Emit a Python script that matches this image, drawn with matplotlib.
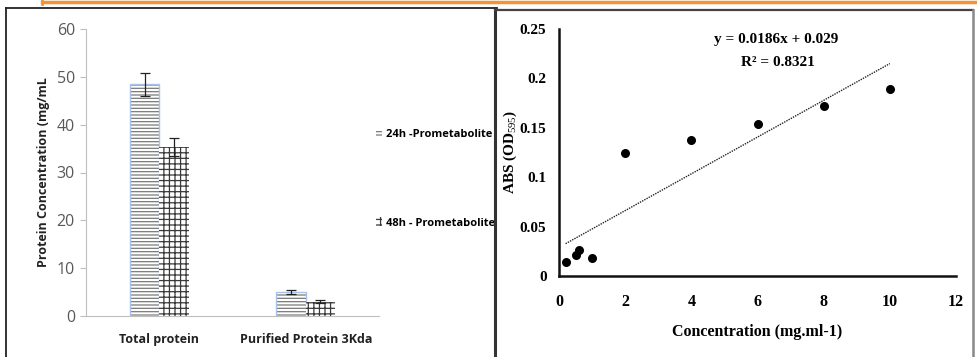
import matplotlib.pyplot as plt
from matplotlib.lines import Line2D

# left chart: protein concentration
categories = ["Total protein", "Purified Protein 3Kda"]
series_names = ["24h -Prometabolite", "48h - Prometabolite"]
conc_24h = [48.4, 5.0]
err_24h = [2.4, 0.5]
conc_48h = [35.3, 3.0]
err_48h = [1.9, 0.3]
left_yticks = [0, 10, 20, 30, 40, 50, 60]

# right chart: standard curve
std_conc = [0.2, 0.5, 0.6, 1, 2, 4, 6, 8, 10]
std_abs = [0.014, 0.021, 0.026, 0.018, 0.125, 0.138, 0.154, 0.172, 0.189]
fit_slope = 0.0186
fit_intercept = 0.029
fit_r2 = 0.8321
right_xticks = [0, 2, 4, 6, 8, 10, 12]
right_yticks = [0, 0.05, 0.1, 0.15, 0.2, 0.25]
right_yticklabels = ["0", "0.05", "0.1", "0.15", "0.2", "0.25"]

W, H = 977, 357
plt.rcParams['mathtext.fontset'] = 'custom'
plt.rcParams['mathtext.rm'] = 'Liberation Serif'
plt.rcParams['mathtext.bf'] = 'Liberation Serif:bold'
plt.rcParams['hatch.linewidth'] = 0.9

SANS = 'Open Sans'
SERIF = 'Liberation Serif'

fig = plt.figure(figsize=(W / 100, H / 100), dpi=100)


def fx(px):
    return px / W


def fy(py):
    return 1 - py / H


# frame lines of the composite picture
fig.add_artist(Line2D([fx(42), fx(977)], [fy(2), fy(2)], color='#f39237', lw=2.5))
fig.add_artist(Line2D([fx(42), fx(42)], [fy(0), fy(4)], color='#f39237', lw=2))
fig.add_artist(Line2D([fx(6), fx(497)], [fy(8), fy(8)], color='#222222', lw=1.3))
fig.add_artist(Line2D([fx(6), fx(6)], [fy(8), fy(357)], color='#222222', lw=1.3))
fig.add_artist(Line2D([fx(495), fx(495)], [fy(8), fy(357)], color='#333333', lw=2.2))
fig.add_artist(Line2D([fx(495), fx(973)], [fy(9.5), fy(9.5)], color='#444444', lw=1.6))
fig.add_artist(Line2D([fx(973), fx(973)], [fy(9.5), fy(357)], color='#888888', lw=1.8))

# ---- left: bar chart ----
ax1 = fig.add_axes([fx(86), fy(316), fx(379) - fx(86), fy(29) - fy(316)])
xs = list(range(len(categories)))
bw = 0.2
b1 = ax1.bar([x - bw / 2 for x in xs], conc_24h, width=bw, color='white',
             edgecolor='#7a7a7a', linewidth=0, hatch='-----', label=series_names[0])
ax1.bar([x - bw / 2 for x in xs], conc_24h, width=bw, fill=False,
        edgecolor='#a9c2ea', linewidth=1.0)
b2 = ax1.bar([x + bw / 2 for x in xs], conc_48h, width=bw, color='white',
             edgecolor='#3a3a3a', linewidth=0, hatch='+++', label=series_names[1])
ax1.errorbar([x - bw / 2 for x in xs], conc_24h, yerr=err_24h, fmt='none',
             ecolor='#222222', elinewidth=0.9, capsize=3.5, capthick=0.9)
ax1.errorbar([x + bw / 2 for x in xs], conc_48h, yerr=err_48h, fmt='none',
             ecolor='#222222', elinewidth=0.9, capsize=3.5, capthick=0.9)
ax1.set_xlim(-0.5, 1.5)
ax1.set_ylim(0, 60)
ax1.set_yticks(left_yticks)
ax1.set_xticks(xs)
ax1.set_xticklabels(categories, fontfamily=SANS, fontweight='bold', fontsize=9,
                    color='#222222')
ax1.tick_params(axis='x', length=0, pad=12)
ax1.tick_params(axis='y', length=4, color='#bfbfbf', labelcolor='#595959',
                labelsize=11.5, pad=4)
for lab in ax1.get_yticklabels():
    lab.set_fontfamily(SANS)
for s in ['top', 'right']:
    ax1.spines[s].set_visible(False)
for s in ['left', 'bottom']:
    ax1.spines[s].set_color('#bfbfbf')
ax1.set_ylabel('Protein Concentration (mg/mL', fontfamily=SANS, fontweight='bold',
               fontsize=9, color='#222222', labelpad=5)
ax1.legend(handles=[b1, b2], loc='upper left', bbox_to_anchor=(fx(370), fy(123)),
           bbox_transform=fig.transFigure, frameon=False, borderpad=0,
           handlelength=0.6, handleheight=0.8, handletextpad=0.3, labelspacing=7.0,
           prop={'family': SANS, 'weight': 'bold', 'size': 8})

# ---- right: standard curve ----
ax2 = fig.add_axes([fx(559), fy(276), fx(956) - fx(559), fy(29) - fy(276)])
ax2.scatter(std_conc, std_abs, s=30, color='black', zorder=3)
fit_x = [min(std_conc), max(std_conc)]
fit_y = [fit_slope * x + fit_intercept for x in fit_x]
ax2.plot(fit_x, fit_y, color='#222222', lw=1.0, linestyle=(0, (1, 0.8)))
ax2.set_xlim(0, 12)
ax2.set_ylim(0, 0.25)
ax2.set_xticks(right_xticks)
ax2.set_yticks(right_yticks)
ax2.set_yticklabels(right_yticklabels)
ax2.tick_params(length=0, labelsize=11.5)
ax2.tick_params(axis='x', pad=13)
ax2.tick_params(axis='y', labelsize=11, pad=9)
for lab in ax2.get_xticklabels() + ax2.get_yticklabels():
    lab.set_fontfamily(SERIF)
    lab.set_fontweight('bold')
for s in ['top', 'right']:
    ax2.spines[s].set_visible(False)
for s in ['left', 'bottom']:
    ax2.spines[s].set_linewidth(1.8)
    ax2.spines[s].set_color('#111111')
ax2.set_xlabel('Concentration (mg.ml-1)', fontfamily=SERIF,
               fontweight='bold', fontsize=11.5, labelpad=10)
ax2.set_ylabel(r'ABS (OD$_{595}$)', fontfamily=SERIF,
               fontweight='bold', fontsize=11)
ax2.yaxis.set_label_coords(-0.102, 0.5)
fig.text(fx(776), fy(39), f'y = {fit_slope}x + {fit_intercept}', ha='center', va='center',
         fontfamily=SERIF, fontweight='bold', fontsize=11)
fig.text(fx(778), fy(63), f'R² = {fit_r2}', ha='center', va='center',
         fontfamily=SERIF, fontweight='bold', fontsize=11)

fig.savefig('out.png', dpi=100, facecolor='white')
